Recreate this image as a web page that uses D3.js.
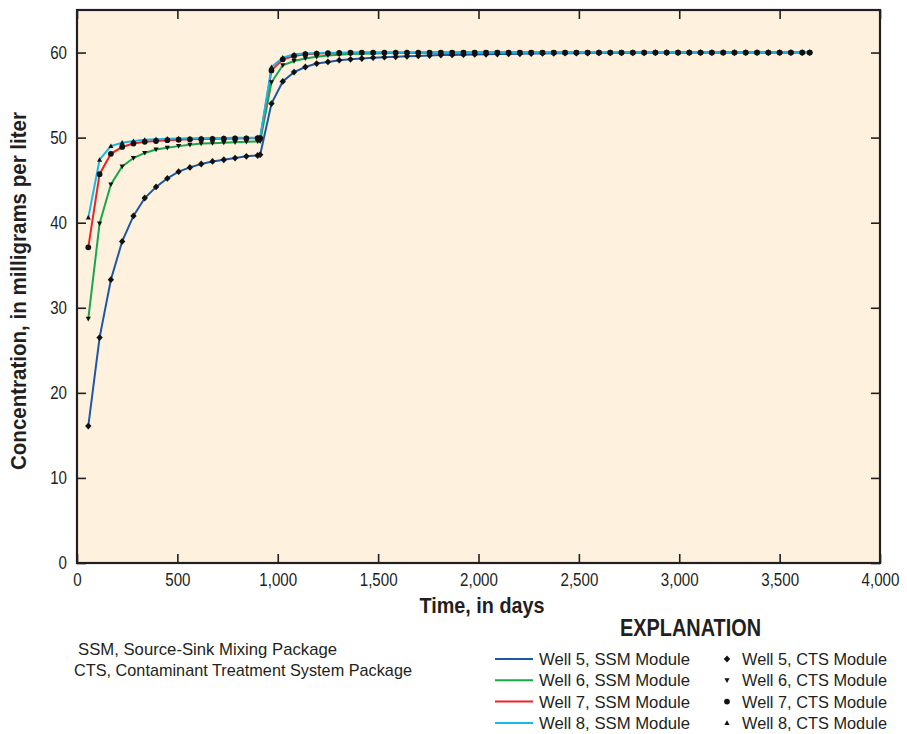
<!DOCTYPE html>
<html>
<head>
<meta charset="utf-8">
<script src="https://cdn.jsdelivr.net/npm/d3@7"></script>
<style>
  body { margin: 0; background: #fff; }
  text { font-family: "Liberation Sans Narrow", "Arial Narrow", "Liberation Sans", sans-serif; fill: #231f20; }
</style>
</head>
<body>
<div id="area"></div>
<script>
// output times, in days
var times = [56.25,112.5,168.75,225,281.25,337.5,393.75,450,506.25,562.5,618.75,675,731.25,787.5,843.75,900,912.5,
  968.75,1025,1081.25,1137.5,1193.75,1250,1306.25,1362.5,1418.75,1475,
  1531.25,1587.5,1643.75,1700,1756.25,1812.5,1868.75,1925,1981.25,2037.5,
  2093.75,2150,2206.25,2262.5,2318.75,2375,2431.25,2487.5,2543.75,2600,
  2656.25,2712.5,2768.75,2825,2881.25,2937.5,2993.75,3050,3106.25,3162.5,
  3218.75,3275,3331.25,3387.5,3443.75,3500,3556.25,3612.5,3650];

// concentration, mg/L (SSM line and CTS markers plot on top of each other)
var well5 = [16.1,26.5,33.3,37.8,40.8,42.9,44.2,45.2,46.0,46.5,46.9,47.2,47.4,47.6,47.8,47.9,48.0,
  54.0,56.6,57.7,58.3,58.7,58.9,59.1,59.2,59.3,59.4,
  59.45,59.5,59.55,59.6,59.65,59.7,59.72,59.75,59.78,59.8,
  59.82,59.84,59.86,59.88,59.9,59.91,59.92,59.93,59.94,59.95,
  59.96,59.96,59.97,59.97,59.98,59.98,59.98,59.99,59.99,59.99,
  59.99,60,60,60,60,60,60,60,60];
var well6 = [28.7,39.9,44.5,46.6,47.6,48.2,48.6,48.8,49.0,49.15,49.3,49.35,49.4,49.45,49.5,49.55,49.55,
  56.5,58.5,59.0,59.3,59.5,59.65,59.75,59.82,59.87,59.9,
  59.92,59.94,59.95,59.96,59.97,59.98,59.98,59.99,59.99,60,
  60,60,60,60,60,60,60,60,60,60,
  60,60,60,60,60,60,60,60,60,60,
  60,60,60,60,60,60,60,60,60];
var well7 = [37.1,45.7,48.1,48.9,49.3,49.5,49.6,49.7,49.75,49.8,49.83,49.86,49.88,49.9,49.92,49.93,49.94,
  57.9,59.2,59.6,59.8,59.88,59.93,59.96,59.98,59.99,60,
  60,60,60,60,60,60,60,60,60,60,
  60,60,60,60,60,60,60,60,60,60,
  60,60,60,60,60,60,60,60,60,60,
  60,60,60,60,60,60,60,60,60];
var well8 = [40.6,47.4,49.0,49.4,49.6,49.75,49.82,49.87,49.9,49.92,49.94,49.95,49.96,49.97,49.98,49.98,49.99,
  58.3,59.4,59.8,59.9,59.95,59.97,59.98,59.99,60,60,
  60,60,60,60,60,60,60,60,60,60,
  60,60,60,60,60,60,60,60,60,60,
  60,60,60,60,60,60,60,60,60,60,
  60,60,60,60,60,60,60,60,60];

var xTicks = [0,500,1000,1500,2000,2500,3000,3500,4000];
var yTicks = [0,10,20,30,40,50,60];

var wells = [
  {name: "Well 5", values: well5, color: "#1d57a5", marker: "diamond"},
  {name: "Well 6", values: well6, color: "#17a64b", marker: "down"},
  {name: "Well 7", values: well7, color: "#ed2227", marker: "circle"},
  {name: "Well 8", values: well8, color: "#1ab7ea", marker: "up"}
];

var width = 907, height = 734;
var margin_left = 77, margin_top = 10, margin_right = 27, margin_bottom = 171;
var pw = width - margin_left - margin_right, ph = height - margin_top - margin_bottom;

var svg = d3.select("#area").append("svg")
  .attr("width", width).attr("height", height);
var g = svg.append("g")
  .attr("transform", "translate(" + margin_left + "," + margin_top + ")");

var x = d3.scaleLinear().domain([0, 4000]).range([0, pw]);
var y = d3.scaleLinear().domain([0, 65]).range([ph, 0]);

// squeeze text horizontally so it looks like the condensed face of the original
function condense(sel, factor) {
  sel.each(function() {
    var w = this.getComputedTextLength();
    d3.select(this).attr("textLength", w * factor).attr("lengthAdjust", "spacingAndGlyphs");
  });
}
function fitTo(sel, w) {
  sel.attr("textLength", w).attr("lengthAdjust", "spacingAndGlyphs");
}

g.append("rect").attr("width", pw).attr("height", ph).style("fill", "#fef2de");

// axes, ticks pointing inward
var fmt = d3.format(",");
function styleAxis(sel, showLabels) {
  sel.select(".domain").remove();
  sel.selectAll(".tick line").style("stroke", "#231f20").style("stroke-width", 1.6);
  sel.selectAll(".tick text").style("font-size", "18px").style("fill", "#231f20")
    .style("font-family", "'Liberation Sans Narrow', 'Arial Narrow', 'Liberation Sans', sans-serif");
  if (!showLabels) sel.selectAll(".tick text").remove();
  else sel.selectAll(".tick text").call(condense, 0.84);
}
g.append("g").attr("transform", "translate(0," + ph + ")")
  .call(d3.axisBottom(x).tickValues(xTicks).tickFormat(fmt).tickSize(-9).tickPadding(10))
  .call(styleAxis, true);
g.append("g")
  .call(d3.axisTop(x).tickValues(xTicks).tickSize(-9))
  .call(styleAxis, false);
g.append("g")
  .call(d3.axisLeft(y).tickValues(yTicks).tickSize(-9).tickPadding(10))
  .call(styleAxis, true);
g.append("g").attr("transform", "translate(" + pw + ",0)")
  .call(d3.axisRight(y).tickValues(yTicks).tickSize(-9))
  .call(styleAxis, false);

g.append("rect").attr("width", pw).attr("height", ph)
  .style("fill", "none").style("stroke", "#231f20").style("stroke-width", 2.2);

// SSM lines
var line = d3.line().x(function(d, i) { return x(times[i]); }).y(function(d) { return y(d); });
wells.forEach(function(w) {
  g.append("path").datum(w.values).attr("d", line)
    .style("fill", "none").style("stroke", w.color).style("stroke-width", 2);
});

// CTS markers
function markerPath(type) {
  if (type == "diamond") return "M0,-3.4L3.2,0L0,3.4L-3.2,0Z";
  if (type == "down") return "M-2.6,-2L2.6,-2L0,2.6Z";
  if (type == "up") return "M-2.6,2L2.6,2L0,-2.6Z";
  return "M2.9,0A2.9,2.9 0 1,1 -2.9,0A2.9,2.9 0 1,1 2.9,0Z";
}
wells.forEach(function(w) {
  g.selectAll(null).data(w.values).enter().append("path")
    .attr("d", markerPath(w.marker))
    .attr("transform", function(d, i) { return "translate(" + x(times[i]) + "," + y(d) + ")"; })
    .style("fill", "#111");
});

// axis titles
svg.append("text").attr("x", 482).attr("y", 613)
  .attr("text-anchor", "middle").style("font-size", "22px").style("font-weight", "bold")
  .text("Time, in days").call(fitTo, 125);
svg.append("text").attr("transform", "translate(26,291) rotate(-90)")
  .attr("text-anchor", "middle").style("font-size", "22px").style("font-weight", "bold")
  .text("Concentration, in milligrams per liter").call(fitTo, 358);

// notes
svg.append("text").attr("x", 78).attr("y", 655).style("font-size", "17px")
  .text("SSM, Source-Sink Mixing Package").call(fitTo, 259);
svg.append("text").attr("x", 74).attr("y", 676).style("font-size", "17px")
  .text("CTS, Contaminant Treatment System Package").call(fitTo, 338);

// explanation
svg.append("text").attr("x", 620).attr("y", 636)
  .style("font-size", "23px").style("font-weight", "bold").text("EXPLANATION").call(fitTo, 141);

var leg = svg.append("g");
wells.forEach(function(w, i) {
  var ry = 659 + i * 21.3;
  leg.append("line").attr("x1", 495).attr("x2", 533).attr("y1", ry).attr("y2", ry)
    .style("stroke", w.color).style("stroke-width", 2);
  leg.append("text").attr("x", 539).attr("y", ry + 6).style("font-size", "17px")
    .text(w.name + ", SSM Module").call(fitTo, 151);
  leg.append("path").attr("d", markerPath(w.marker))
    .attr("transform", "translate(727," + ry + ")").style("fill", "#111");
  leg.append("text").attr("x", 742).attr("y", ry + 6).style("font-size", "17px")
    .text(w.name + ", CTS Module").call(fitTo, 145);
});
</script>
</body>
</html>
